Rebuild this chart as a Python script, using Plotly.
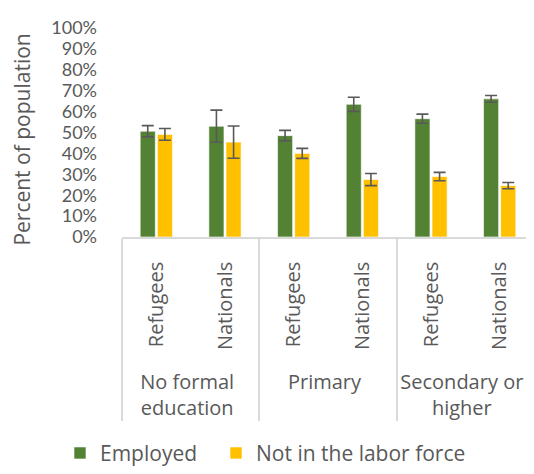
import plotly.graph_objects as go

groups = ["No formal<br>education", "No formal<br>education", "Primary", "Primary",
          "Secondary or<br>higher", "Secondary or<br>higher"]
subcats = ["Refugees", "Nationals", "Refugees", "Nationals", "Refugees", "Nationals"]

employed = [50.6, 53.0, 48.5, 63.5, 56.6, 66.1]
employed_err = [2.7, 7.7, 2.5, 3.4, 2.2, 1.6]
not_in_lf = [49.1, 45.4, 40.0, 27.5, 28.9, 24.6]
not_in_lf_err = [2.8, 7.7, 2.4, 2.9, 2.0, 1.5]

yticks = list(range(0, 101, 10))
ytick_labels = [f"{v}%" for v in yticks]

GREEN = "#548235"
YELLOW = "#FFC000"
GRAY = "#595959"
FONT = "Open Sans"

# leading no-break spaces give the rotated sub-labels extra room below them
PAD = "\u00a0\u00a0\u00a0"
sub_labels = [PAD + s for s in subcats]

fig = go.Figure()
fig.add_trace(go.Bar(
    x=[groups, sub_labels], y=employed, name="Employed", legend="legend",
    marker=dict(color=GREEN, line=dict(color="rgba(255,255,255,0.6)", width=1)),
    error_y=dict(type="data", array=employed_err, color=GRAY, thickness=1.6, width=6),
))
fig.add_trace(go.Bar(
    x=[groups, sub_labels], y=not_in_lf, name="Not in the labor force", legend="legend2",
    marker=dict(color=YELLOW, line=dict(color="rgba(255,255,255,0.6)", width=1)),
    error_y=dict(type="data", array=not_in_lf_err, color=GRAY, thickness=1.6, width=6),
))

# page body has an 8px margin, so the figure is sized to fit the 534x474 window
fig.update_layout(
    width=526, height=466,
    margin=dict(l=114, r=0, t=20, b=228),
    paper_bgcolor="white", plot_bgcolor="white",
    barmode="group", bargap=0.5, bargroupgap=0.12,
    font=dict(family=FONT, color=GRAY, size=20),
    showlegend=True,
    legend=dict(orientation="h", x=-0.1505, xanchor="left", y=-1.035, yanchor="middle",
                font=dict(size=21, color=GRAY), itemwidth=30, bgcolor="rgba(0,0,0,0)"),
    legend2=dict(orientation="h", x=0.2282, xanchor="left", y=-1.035, yanchor="middle",
                 font=dict(size=21, color=GRAY), itemwidth=30, bgcolor="rgba(0,0,0,0)"),
    annotations=[dict(
        text="Percent of population", textangle=-90, showarrow=False,
        xref="paper", yref="paper", x=-0.2427, y=0.466, xanchor="center", yanchor="middle",
        font=dict(size=21, color=GRAY),
    )],
)
fig.update_xaxes(
    type="multicategory", range=[-0.5, 5.5], automargin=False,
    tickangle=-90, tickfont=dict(size=20, color=GRAY), ticklabelstandoff=15,
    showline=True, linecolor="#D9D9D9", linewidth=1.5,
    showdividers=True, dividercolor="#D9D9D9", dividerwidth=1.5,
    ticks="", showgrid=False,
)
fig.update_yaxes(
    range=[0, 100], tickvals=yticks, ticktext=ytick_labels, automargin=False,
    showgrid=False, zeroline=False, showline=False, ticks="",
    tickfont=dict(family="Lato", size=18, color=GRAY), ticklabelstandoff=24,
)

fig.write_html("out.html")
